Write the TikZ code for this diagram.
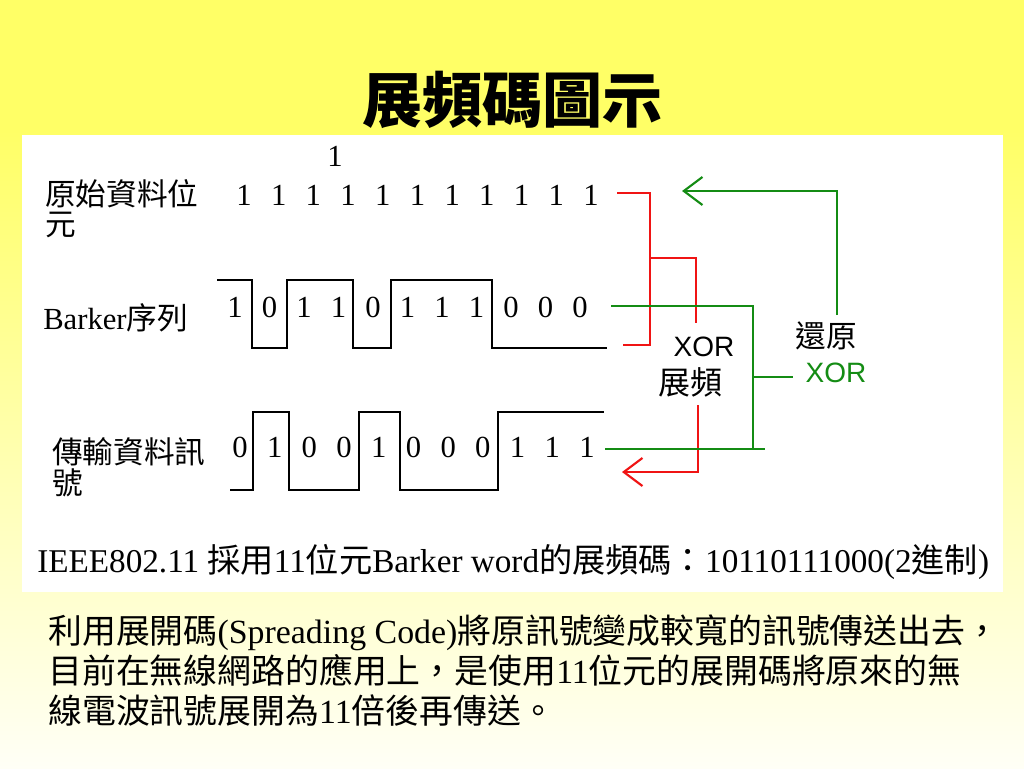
\documentclass[tikz,border=0pt]{standalone}
\usepackage{fontspec}
\setmainfont{Liberation Serif}
\setsansfont{Liberation Sans}
\newfontfamily\cjk{Noto Sans CJK TC}
\usepackage{tikz}
\usetikzlibrary{positioning, calc, arrows.meta}

\definecolor{bgyellow}{RGB}{255,255,102}
\definecolor{bglight}{RGB}{255,255,246}
\definecolor{wirered}{RGB}{240,20,20}
\definecolor{wiregreen}{RGB}{20,140,20}

\newcommand{\zh}[1]{{\cjk #1}}

\begin{document}
\begin{tikzpicture}[x=0.75pt, y=-0.75pt,
        wave/.style={line width=1.7pt, black},
        redwire/.style={line width=1.8pt, wirered},
        greenwire/.style={line width=1.8pt, wiregreen},
        barb/.style={-{Straight Barb[length=14pt, width=21pt, line width=1.6pt]}},
        bit/.style={font=\fontsize{23}{23}\selectfont, inner sep=0pt},
        rowlabel/.style={font=\fontsize{23}{23}\selectfont, anchor=west, inner sep=0pt}]
        % the background
        \useasboundingbox (0,0) rectangle (1024,768);
        \fill[bgyellow] (0,0) rectangle (1024,131);
        \shade[top color=bgyellow, bottom color=bglight] (0,130) rectangle (1024,768);
        \fill[white] (22,135) rectangle (1003,592);

        % title
        \node (title) at (512,100) {\fontsize{45}{45}\selectfont\cjk\bfseries 展頻碼圖示};

        % row labels
        \node[rowlabel] (datalabel) at (45,194) {\zh{原始資料位}};
        \node[rowlabel] (datalabel2) at (45,225) {\zh{元}};
        \node[rowlabel] (barkerlabel) at (43,318) {Barker\zh{序列}};
        \node[rowlabel] (txlabel) at (52,452) {\zh{傳輸資料訊}};
        \node[rowlabel] (txlabel2) at (52,483) {\zh{號}};

        % data bits
        \node[bit] (topone) at (335,156) {1};
        \foreach \i in {0,...,10}
            \node[bit] (data\i) at (244+34.7*\i,195) {1};

        % barker sequence
        \foreach \b [count=\i from 0] in {1,0,1,1,0,1,1,1,0,0,0}
            \node[bit] (barker\i) at (235+34.5*\i,307) {\b};
        \draw[wave] (217,280) -| (252,348) -| (287,280) -| (353,348) -| (391,280) -| (492,348) -- (607,348);

        % transmitted signal
        \foreach \b [count=\i from 0] in {0,1,0,0,1,0,0,0,1,1,1}
            \node[bit] (tx\i) at (240+34.7*\i,447) {\b};
        \draw[wave] (230,490) -| (253,412) -| (289,490) -| (359,412) -| (400,490) -| (498,412) -- (604,412);

        % XOR labels
        \node[font=\fontsize{21}{21}\selectfont\sffamily] (spreadxor) at (704,347) {XOR};
        \node[font=\fontsize{24}{24}\selectfont\cjk] (spread) at (690,382) {展頻};
        \node[font=\fontsize{23}{23}\selectfont\cjk] (restore) at (826,336) {還原};
        \node[font=\fontsize{21}{21}\selectfont\sffamily, text=wiregreen] (restorexor) at (836,373) {XOR};

        % spreading (red)
        \coordinate (datatap) at (617,193);
        \coordinate (redbus) at (650,258);
        \coordinate (redstub) at (623,345);
        \coordinate (xorin) at (696,323);
        \coordinate (xorout) at (698,405);
        \coordinate (txin) at (622,472);
        \draw[redwire] (datatap) -| (650,345) -- (redstub);
        \draw[redwire] (redbus) -| (xorin);
        \draw[redwire, barb] (xorout) |- (txin);

        % restoring (green)
        \coordinate (barkertap) at (611,306);
        \coordinate (txtap) at (605,449);
        \coordinate (greenbus) at (753,377);
        \coordinate (restorein) at (793,377);
        \coordinate (restoreout) at (837,315);
        \coordinate (datain) at (682,191);
        \draw[greenwire] (barkertap) -| (753,450);
        \draw[greenwire] (txtap) -- (765,449);
        \draw[greenwire] (greenbus) -- (restorein);
        \draw[greenwire, barb] (restoreout) |- (datain);

        % caption and note
        \node[anchor=west, inner sep=0pt, font=\fontsize{24.9}{25}\selectfont] (caption) at (37,562)
            {IEEE802.11 \zh{採用}11\zh{位元}Barker word\zh{的展頻碼：}10110111000(2\zh{進制})};
        \node[anchor=north west, align=left, inner sep=0pt, font=\fontsize{25.4}{30}\selectfont] (note) at (48,615)
            {\zh{利用展開碼}(Spreading Code)\zh{將原訊號變成較寬的訊號傳送出去，}\\
             \zh{目前在無線網路的應用上，是使用}11\zh{位元的展開碼將原來的無}\\
             \zh{線電波訊號展開為}11\zh{倍後再傳送。}};
    \end{tikzpicture}
\end{document}
